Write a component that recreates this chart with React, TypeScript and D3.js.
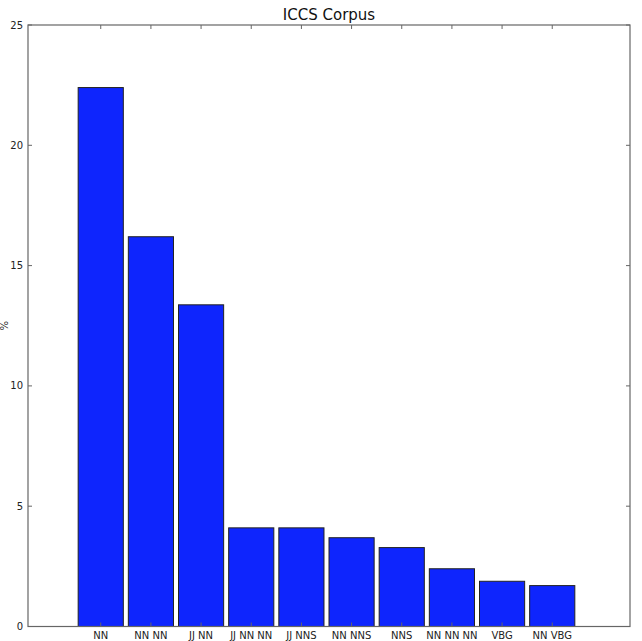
import * as React from "react";
import * as d3 from "d3";

const categories = ["NN", "NN NN", "JJ NN", "JJ NN NN", "JJ NNS", "NN NNS", "NNS", "NN NN NN", "VBG", "NN VBG"];
const percents = [22.4, 16.2, 13.37, 4.1, 4.1, 3.69, 3.28, 2.4, 1.88, 1.7];
const yTicks = [0, 5, 10, 15, 20, 25];

export default function App() {
  const ref = React.useRef<SVGSVGElement>(null);

  React.useEffect(() => {
    const svg = d3.select(ref.current);
    svg.selectAll("*").remove();

    const left = 28;
    const right = 630;
    const top = 25;
    const bottom = 626.5;
    const font = "DejaVu Sans, sans-serif";
    const axisColor = "#666";

    // bars sit at 1..10 with width 0.9, x range 0..12 (matplotlib style)
    const x = d3.scaleLinear().domain([0, 12]).range([left, right]);
    const y = d3.scaleLinear().domain([0, 25]).range([bottom, top]);
    const barW = 0.9;

    const g = svg.append("g");

    g.selectAll("rect.bar")
      .data(percents)
      .enter()
      .append("rect")
      .attr("class", "bar")
      .attr("x", (_d, i) => x(i + 1))
      .attr("y", (d) => y(d))
      .attr("width", x(barW) - x(0))
      .attr("height", (d) => y(0) - y(d))
      .attr("fill", "#0e25fd")
      .attr("stroke", "#222")
      .attr("stroke-width", 1);

    // frame
    g.append("rect")
      .attr("x", left)
      .attr("y", top)
      .attr("width", right - left)
      .attr("height", bottom - top)
      .attr("fill", "none")
      .attr("stroke", axisColor)
      .attr("stroke-width", 1.2);

    // y ticks (inward, both sides)
    yTicks.forEach((t) => {
      g.append("line")
        .attr("x1", left).attr("x2", left + 4)
        .attr("y1", y(t)).attr("y2", y(t))
        .attr("stroke", axisColor);
      g.append("line")
        .attr("x1", right - 4).attr("x2", right)
        .attr("y1", y(t)).attr("y2", y(t))
        .attr("stroke", axisColor);
      g.append("text")
        .attr("x", left - 5)
        .attr("y", y(t) + 3.5)
        .attr("text-anchor", "end")
        .attr("font-family", font)
        .attr("font-size", "10px")
        .attr("fill", "#222")
        .text(t);
    });

    // x ticks at bar centres
    categories.forEach((c, i) => {
      const cx = x(i + 1 + barW / 2);
      g.append("line")
        .attr("x1", cx).attr("x2", cx)
        .attr("y1", bottom).attr("y2", bottom - 4)
        .attr("stroke", axisColor);
      g.append("line")
        .attr("x1", cx).attr("x2", cx)
        .attr("y1", top).attr("y2", top + 4)
        .attr("stroke", axisColor);
      g.append("text")
        .attr("x", cx)
        .attr("y", bottom + 12)
        .attr("text-anchor", "middle")
        .attr("font-family", font)
        .attr("font-size", "10px")
        .attr("fill", "#222")
        .text(c);
    });

    svg.append("text")
      .attr("transform", `translate(8,${(top + bottom) / 2}) rotate(-90)`)
      .attr("text-anchor", "middle")
      .attr("font-family", font)
      .attr("font-size", "10px")
      .attr("fill", "#222")
      .text("%");

    svg.append("text")
      .attr("x", (left + right) / 2)
      .attr("y", 20)
      .attr("text-anchor", "middle")
      .attr("font-family", font)
      .attr("font-size", "15px")
      .attr("fill", "#111")
      .text("ICCS Corpus");
  }, []);

  return (
    <svg
      ref={ref}
      width={642}
      height={641}
      style={{ position: "absolute", left: 0, top: 0, background: "#fff" }}
    />
  );
}
